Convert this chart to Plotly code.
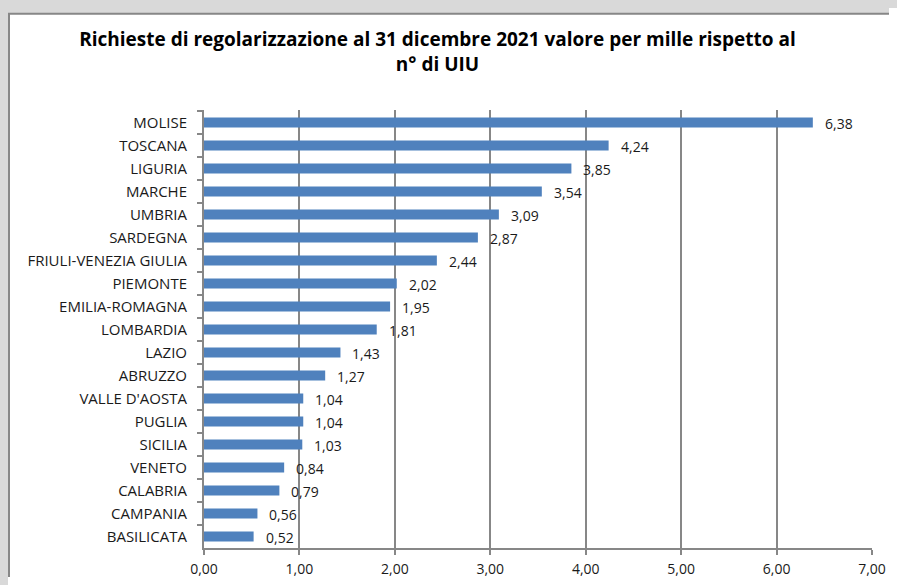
import plotly.graph_objects as go

# Data (top to bottom as shown)
regioni = ["MOLISE", "TOSCANA", "LIGURIA", "MARCHE", "UMBRIA", "SARDEGNA",
           "FRIULI-VENEZIA GIULIA", "PIEMONTE", "EMILIA-ROMAGNA", "LOMBARDIA",
           "LAZIO", "ABRUZZO", "VALLE D'AOSTA", "PUGLIA", "SICILIA", "VENETO",
           "CALABRIA", "CAMPANIA", "BASILICATA"]
valori = [6.38, 4.24, 3.85, 3.54, 3.09, 2.87, 2.44, 2.02, 1.95, 1.81,
          1.43, 1.27, 1.04, 1.04, 1.03, 0.84, 0.79, 0.56, 0.52]
x_ticks = [0, 1, 2, 3, 4, 5, 6, 7]

BAR_COL = '#4f81bd'
GRID_COL = '#878787'
BG_COL = '#d9d9d9'
FONT = 'Open Sans, Lato, sans-serif'

# page body keeps its 8px margin: figure sized so the page never overflows
W, H = 881, 569
L, R, T, B = 196, 17, 101.5, 28.5
pw, ph = W - L - R, H - T - B

def px_x(p):
    return (p - L) / pw

def px_y(p):
    return (H - B - p) / ph

fig = go.Figure()
fig.add_trace(go.Bar(x=valori, y=regioni, orientation='h',
                     marker=dict(color=BAR_COL, line=dict(width=0)),
                     hoverinfo='skip'))

# value labels to the right of each bar
for r, v in zip(regioni, valori):
    fig.add_annotation(x=v, y=r, text=f"{v:.2f}".replace('.', ','),
                       showarrow=False, xanchor='left', xshift=10, yshift=-1,
                       font=dict(family=FONT, size=14, color='#1a1a1a'))

# white chart area with grey frame on grey background
fig.add_shape(type='rect', xref='paper', yref='paper', layer='below',
              x0=px_x(1), x1=px_x(930), y0=px_y(630), y1=px_y(5),
              fillcolor='white', line=dict(color=GRID_COL, width=2))

fig.update_layout(
    width=W, height=H,
    margin=dict(l=L, r=R, t=T, b=B, autoexpand=False),
    paper_bgcolor=BG_COL, plot_bgcolor='rgba(0,0,0,0)',
    separators=',.',
    bargap=0.57,
    showlegend=False,
    title=dict(text="Richieste di regolarizzazione al 31 dicembre 2021 valore per mille rispetto al<br>n° di UIU",
               x=px_x(429.5), xanchor='center', xref='paper',
               y=1 - 38 / H, yanchor='top',
               font=dict(family=FONT, size=19, color='black', weight='bold')),
    font=dict(family=FONT, size=14, color='#1a1a1a'),
)
fig.update_xaxes(range=[0, 7], tickvals=x_ticks, tickformat='.2f',
                 showgrid=True, gridcolor=GRID_COL, gridwidth=2,
                 showline=True, linecolor=GRID_COL, linewidth=2,
                 ticks='outside', ticklen=5, tickcolor=GRID_COL, tickwidth=2,
                 ticklabelstandoff=2,
                 zeroline=False, fixedrange=True, automargin=False,
                 tickfont=dict(family=FONT, size=14))
fig.update_yaxes(autorange='reversed', showgrid=False,
                 showline=True, linecolor=GRID_COL, linewidth=2,
                 ticks='outside', ticklen=5, tickcolor=GRID_COL, tickwidth=2,
                 tickson='boundaries', ticklabelstandoff=12,
                 fixedrange=True, automargin=False,
                 tickfont=dict(family=FONT, size=15))

# grey strips on top and left of the page margin, white elsewhere
page_js = ("document.body.style.background="
           "'linear-gradient(%s,%s) left top/100%% 8px no-repeat,"
           "linear-gradient(%s,%s) left top/8px 100%% no-repeat,white';"
           % (BG_COL, BG_COL, BG_COL, BG_COL))
fig.write_html("out.html", post_script=page_js,
               config={'displayModeBar': False})
